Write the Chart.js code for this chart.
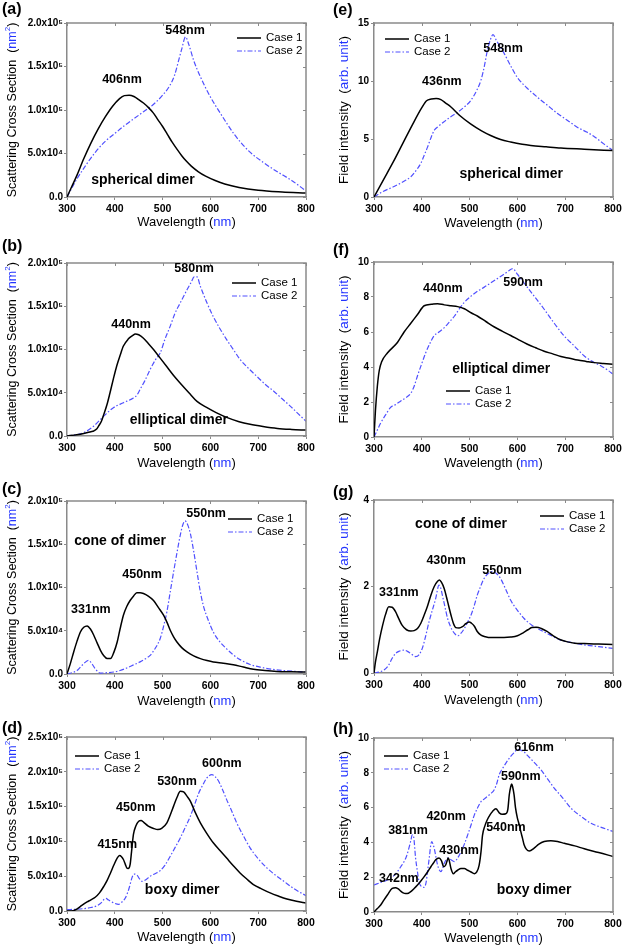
<!DOCTYPE html>
<html><head><meta charset="utf-8">
<script src="https://cdn.jsdelivr.net/npm/chart.js@4.4.1/dist/chart.umd.min.js"></script>
<style>
html,body{margin:0;padding:0;background:#fff;width:622px;height:946px;overflow:hidden;position:relative}
canvas{position:absolute}
</style></head><body>
<script>
// ---------- tick labels ----------
const wavelengthTicks = [300, 400, 500, 600, 700, 800];
const scatTickValues = [0, 50000, 100000, 150000, 200000, 250000];
const scatTickLabels = ['0.0', '5.0x10⁴', '1.0x10⁵', '1.5x10⁵', '2.0x10⁵', '2.5x10⁵'];
const seriesNames = ['Case 1', 'Case 2'];

// ---------- (a) spherical dimer, scattering ----------
const a1_wl = [300,310,320,335,350,365,380,395,410,420,430,440,450,460,470,480,490,500,510,520,530,540,550,560,575,590,610,630,660,700,750,800];
const a1_val = [0,12e3,24e3,44e3,62e3,78e3,92e3,104e3,113e3,116.5e3,117e3,115.5e3,112e3,108e3,103e3,97e3,89e3,81e3,72e3,63e3,55e3,47.5e3,41e3,35.5e3,29e3,24e3,19e3,15e3,11e3,7.8e3,5.8e3,4.5e3];
const a2_wl = [300,320,340,360,380,400,420,440,460,480,500,515,525,535,540,548,555,565,580,600,620,650,680,710,740,770,800];
const a2_val = [0,20e3,37e3,52e3,64e3,73e3,82e3,90e3,98e3,106e3,117e3,128e3,140e3,160e3,170e3,184e3,175e3,157e3,137e3,115e3,97e3,72e3,53e3,40e3,29e3,19e3,7e3];

// ---------- (e) spherical dimer, field ----------
const e1_wl = [300,320,340,360,380,400,410,420,430,440,450,461,480,502,525,544,565,586,610,628,660,691,740,800];
const e1_val = [0,1.5,3.0,4.6,6.2,7.7,8.3,8.45,8.5,8.4,8.1,7.76,7.0,6.3,5.7,5.3,4.95,4.74,4.55,4.45,4.33,4.22,4.12,4.0];
const e2_wl = [300,320,342,360,377,390,398,405,412,420,426,435,447,460,475,490,502,515,524,531,537,543,549,556,572,586,600,620,642,663,684,705,726,745,761,780,800];
const e2_val = [0,0.5,0.9,1.3,1.75,2.4,2.9,3.6,4.3,5.2,5.75,6.1,6.5,6.9,7.3,7.8,8.3,9.2,10.1,11.3,12.6,13.5,14.0,13.5,12.4,11.3,10.3,9.4,8.6,7.9,7.2,6.6,6.0,5.6,5.2,4.6,4.0];

// ---------- (b) elliptical dimer, scattering ----------
const b1_wl = [300,320,335,350,356,362,366,372,377,384,390,397,404,411,418,428,437,443,450,460,470,481,495,509,523,537,555,572,592,612,634,660,683,710,740,770,800];
const b1_val = [0,1.5e3,3e3,5e3,5.8e3,8e3,11.5e3,17e3,25e3,37e3,50e3,66e3,81e3,93e3,104e3,112e3,116e3,118e3,117e3,113e3,107e3,100e3,90e3,80e3,70e3,61e3,50e3,40e3,33e3,27e3,21.5e3,16.5e3,13.5e3,11e3,8.8e3,7.6e3,6.8e3];
const b2_wl = [300,320,335,356,377,397,418,439,446,453,463,474,485,495,505,516,526,537,551,560,566,572,579,592,606,620,634,648,662,680,697,714,732,750,767,785,800];
const b2_val = [0,1.5e3,3.8e3,11.5e3,23e3,32.7e3,38.5e3,44e3,47e3,54e3,64e3,77e3,88e3,96e3,112e3,127e3,142e3,154e3,169e3,178e3,184e3,184e3,173e3,155e3,138e3,124e3,111.5e3,100e3,88.5e3,78e3,69e3,60e3,52e3,43e3,34.6e3,25e3,17e3];

// ---------- (f) elliptical dimer, field ----------
const f1_wl = [300,303,307,311,316,328,349,363,377,391,405,420,433,447,461,475,489,503,517,534,551,568,586,603,621,638,656,674,691,709,726,744,761,780,800];
const f1_val = [0,1.5,2.9,3.8,4.3,4.8,5.4,6.0,6.5,7.0,7.5,7.58,7.62,7.55,7.5,7.45,7.33,7.1,6.9,6.6,6.3,6.05,5.8,5.55,5.3,5.1,4.9,4.75,4.6,4.5,4.4,4.32,4.25,4.2,4.15];
const f2_wl = [300,307,314,325,335,345,356,367,377,384,391,400,408,417,426,436,447,457,468,478,489,503,517,530,544,558,572,582,590,600,614,635,656,677,698,719,740,758,775,790,800];
const f2_val = [0,0.4,0.8,1.3,1.7,1.85,2.06,2.25,2.5,2.9,3.5,4.2,4.8,5.35,5.8,6.0,6.25,6.55,6.9,7.3,7.7,8.05,8.34,8.55,8.8,9.05,9.3,9.5,9.62,9.3,8.8,8.05,7.3,6.5,5.77,5.2,4.63,4.3,4.06,3.8,3.58];

// ---------- (c) cone of dimer, scattering ----------
const c1_wl = [300,307,314,321,328,335,342,349,356,363,370,377,384,391,398,405,411,418,425,432,439,446,453,460,470,481,491,502,509,516,523,530,540,551,565,579,593,606,627,648,669,690,714,739,770,800];
const c1_val = [0,12e3,25.5e3,38e3,48.6e3,54e3,55.6e3,52e3,44.8e3,36e3,27.4e3,21e3,17.8e3,17.8e3,25e3,37e3,52e3,68e3,78e3,85e3,90e3,94e3,94e3,93e3,90e3,85e3,77e3,68e3,60e3,50.6e3,43e3,37e3,30.5e3,25.5e3,21e3,17.8e3,15.5e3,13.9e3,12.5e3,10.8e3,8e3,5.4e3,4e3,3e3,2.6e3,2.3e3];
const c2_wl = [300,310,321,328,335,345,352,359,365,370,384,398,411,425,439,453,464,474,485,495,502,509,516,523,530,537,542,547,552,558,565,572,578,585,595,606,620,634,648,662,683,704,728,753,800];
const c2_val = [0,1.5e3,4e3,8e3,12e3,15.8e3,12e3,6e3,2.5e3,1e3,1.5e3,2.3e3,4e3,7e3,10.5e3,14e3,17.5e3,21.6e3,30e3,41e3,55e3,72e3,95e3,118e3,140e3,160.6e3,172e3,177e3,173e3,162.5e3,142e3,118e3,98e3,79.5e3,63e3,48.6e3,37e3,29e3,22e3,16.6e3,11e3,8e3,5.5e3,4e3,2.3e3];

// ---------- (g) cone of dimer, field ----------
const g1_wl = [300,303,307,312,318,324,331,338,345,352,359,368,377,384,391,398,405,412,419,426,433,437,441,447,454,461,466,471,478,485,492,499,504,510,516,523,533,544,558,572,586,600,612,622,630,640,650,662,675,690,705,720,740,770,800];
const g1_val = [0,0.25,0.49,0.8,1.1,1.35,1.53,1.52,1.42,1.25,1.1,1.0,0.97,0.98,1.03,1.15,1.34,1.55,1.8,2.0,2.12,2.15,2.1,1.95,1.65,1.34,1.15,1.05,1.04,1.07,1.14,1.18,1.15,1.08,0.96,0.88,0.84,0.82,0.82,0.82,0.83,0.86,0.93,1.0,1.05,1.06,1.03,0.96,0.86,0.77,0.72,0.69,0.68,0.67,0.66];
const g2_wl = [300,310,321,330,338,345,352,363,370,377,387,394,401,408,415,422,429,436,440,443,448,454,461,468,475,482,489,496,503,510,516,523,530,539,548,556,565,575,586,600,614,631,649,670,691,715,740,770,800];
const g2_val = [0,0.02,0.07,0.17,0.34,0.45,0.5,0.53,0.5,0.45,0.38,0.42,0.57,0.85,1.18,1.45,1.72,2.03,1.95,1.8,1.55,1.26,1.05,0.92,0.86,0.92,1.03,1.18,1.34,1.57,1.8,2.0,2.18,2.3,2.35,2.3,2.18,1.95,1.68,1.45,1.26,1.1,0.99,0.87,0.76,0.7,0.65,0.61,0.57];

// ---------- (d) boxy dimer, scattering ----------
const d1_wl = [300,310,321,331,342,350,359,368,377,384,391,398,405,410,414,418,422,425,428,432,435,439,444,450,455,460,470,481,490,498,509,516,523,530,537,544,551,558,568,579,592,606,620,634,648,662,676,690,708,725,742,760,780,800];
const d1_val = [0,0,2.9e3,8e3,13e3,16e3,19.7e3,26e3,35.5e3,44e3,54.7e3,66e3,76e3,79.7e3,78e3,74e3,67e3,62e3,61e3,66.7e3,85e3,110e3,122e3,129e3,130e3,127.7e3,122e3,118.6e3,117e3,118.6e3,126.7e3,138e3,150.7e3,163e3,172e3,171e3,165e3,158e3,142e3,126.7e3,112e3,98e3,87e3,76e3,65e3,54.7e3,46e3,38e3,31.5e3,26e3,21.5e3,17.3e3,14e3,11.5e3];
const d2_wl = [300,320,335,350,363,372,378,382,386,391,400,408,415,422,430,436,440,446,451,457,465,474,485,495,505,516,526,537,548,558,567,575,584,592,603,610,617,625,634,645,655,669,683,700,718,735,753,775,800];
const d2_val = [2e3,2.5e3,3.4e3,5e3,7.7e3,12e3,17e3,18e3,16e3,14e3,11e3,9.6e3,13e3,18.7e3,33e3,48e3,53e3,52e3,47e3,42.7e3,45e3,50e3,54e3,58e3,66e3,78.7e3,91e3,105e3,121e3,136e3,153e3,168.5e3,181e3,190.6e3,196e3,193e3,186.7e3,175e3,160e3,143e3,126.7e3,108e3,90.7e3,75e3,62e3,52e3,43e3,32e3,22e3];

// ---------- (h) boxy dimer, field ----------
const h1_wl = [300,307,314,321,328,338,345,350,356,361,366,372,377,384,391,398,405,412,419,424,429,436,441,446,450,453,455,457,461,466,470,475,482,489,496,503,510,515,520,524,527,532,537,543,548,555,562,568,576,580,583,586,588,590,593,596,600,604,607,611,614,619,625,635,645,656,670,684,698,720,740,770,800];
const h1_val = [0,0.2,0.4,0.7,0.98,1.36,1.4,1.35,1.2,1.1,1.06,1.08,1.17,1.35,1.55,1.78,2.03,2.3,2.6,2.8,3.0,3.1,2.95,2.6,2.7,2.95,3.1,3.0,2.5,2.2,2.3,2.4,2.5,2.5,2.4,2.3,2.2,2.3,2.7,3.5,4.4,4.95,5.3,5.6,5.78,5.93,5.7,5.62,5.65,5.9,6.74,7.2,7.35,7.2,6.74,6.0,5.4,5.0,4.63,4.2,3.86,3.6,3.5,3.67,3.9,4.05,4.1,4.05,3.95,3.8,3.63,3.42,3.19];
const h2_wl = [300,314,328,340,349,356,363,368,373,377,380,383,387,391,394,398,405,409,412,416,419,421,424,426,430,433,437,440,447,454,461,468,475,482,489,496,503,510,517,524,531,537,544,551,557,562,569,576,586,593,600,607,614,621,635,649,663,677,695,712,733,754,777,800];
const h2_val = [1.55,1.7,1.84,2.05,2.32,2.6,2.9,3.2,3.67,4.1,4.43,4.3,3.1,2.3,1.75,1.5,1.42,1.7,2.32,3.2,3.9,4.05,3.85,3.67,3.1,2.7,2.4,2.32,2.8,3.1,3.0,2.9,3.1,3.47,3.9,4.43,5.0,5.58,6.0,6.35,6.5,6.64,6.8,7.0,7.4,7.9,8.25,8.56,8.94,9.15,9.35,9.3,9.2,9.0,8.6,8.18,7.65,7.12,6.55,5.97,5.5,5.1,4.85,4.63];

// ---------- styling ----------
const FONT = '"Liberation Sans", Arial, Helvetica, sans-serif';
const BLUE_TEXT = '#2233ff';
const BLUE_LINE = '#5050ff';
const GRAY = '#8a8a8a';
const DASH = [5, 2, 1.5, 2];

const panels = [
  {tag:'(a)', col:0, row:0, top:23, bottom:197, ymax:2e5, ystep:5e4, kind:'scat', s1:[a1_wl,a1_val], s2:[a2_wl,a2_val],
   label:{y:10}, xt:25, legend:{x:170,y:15},
   notes:[{t:'548nm',x:547,y:190.8e3},{t:'406nm',x:415,y:134.5e3},{t:'spherical dimer',x:459,y:19.5e3,big:true}]},
  {tag:'(b)', col:0, row:1, top:27, bottom:200, ymax:2e5, ystep:5e4, kind:'scat', s1:[b1_wl,b1_val], s2:[b2_wl,b2_val],
   label:{y:11}, xt:27, legend:{x:165,y:20},
   notes:[{t:'580nm',x:566,y:194e3},{t:'440nm',x:434,y:128.3e3},{t:'elliptical dimer',x:534,y:18.5e3,big:true}]},
  {tag:'(c)', col:0, row:2, top:29, bottom:202, ymax:2e5, ystep:5e4, kind:'scat', s1:[c1_wl,c1_val], s2:[c2_wl,c2_val],
   label:{y:18}, xt:27, legend:{x:161,y:18},
   notes:[{t:'cone of dimer',x:411,y:153.7e3,big:true},{t:'331nm',x:350,y:74e3},{t:'450nm',x:457,y:114.4e3},{t:'550nm',x:591,y:185e3}]},
  {tag:'(d)', col:0, row:3, top:29, bottom:203, ymax:2.5e5, ystep:5e4, kind:'scat', s1:[d1_wl,d1_val], s2:[d2_wl,d2_val],
   label:{y:21}, xt:26, legend:{x:8,y:19},
   notes:[{t:'boxy dimer',x:541,y:30.2e3,big:true},{t:'415nm',x:405,y:94.8e3},{t:'450nm',x:444,y:148e3},{t:'530nm',x:530,y:185.3e3},{t:'600nm',x:624,y:211.2e3}]},
  {tag:'(e)', col:1, row:0, top:23, bottom:197, ymax:15, ystep:5, kind:'field', s1:[e1_wl,e1_val], s2:[e2_wl,e2_val],
   label:{y:11}, xt:26, legend:{x:11,y:16},
   notes:[{t:'548nm',x:570,y:12.84},{t:'436nm',x:442,y:9.91},{t:'spherical dimer',x:587,y:1.98,big:true}]},
  {tag:'(f)', col:1, row:1, top:26, bottom:201, ymax:10, ystep:2, kind:'field', s1:[f1_wl,f1_val], s2:[f2_wl,f2_val],
   label:{y:15}, xt:26, legend:{x:72,y:129},
   notes:[{t:'440nm',x:444,y:8.51},{t:'590nm',x:612,y:8.8},{t:'elliptical dimer',x:566,y:3.89,big:true}]},
  {tag:'(g)', col:1, row:2, top:28, bottom:201, ymax:4, ystep:2, kind:'field', s1:[g1_wl,g1_val], s2:[g2_wl,g2_val],
   label:{y:21}, xt:27, legend:{x:166,y:16},
   notes:[{t:'cone of dimer',x:482,y:3.44,big:true},{t:'331nm',x:352,y:1.87},{t:'430nm',x:451,y:2.59},{t:'550nm',x:568,y:2.36}]},
  {tag:'(h)', col:1, row:3, top:30, bottom:204, ymax:10, ystep:2, kind:'field', s1:[h1_wl,h1_val], s2:[h2_wl,h2_val],
   label:{y:22}, xt:26, legend:{x:10,y:18},
   notes:[{t:'boxy dimer',x:635,y:1.26,big:true},{t:'342nm',x:352,y:1.95},{t:'381nm',x:371,y:4.66},{t:'420nm',x:451,y:5.46},{t:'430nm',x:478,y:3.51},{t:'540nm',x:576,y:4.83},{t:'590nm',x:607,y:7.76},{t:'616nm',x:635,y:9.48}]}
];

function drawRuns(ctx, parts, cx, cy, rotate) {
  ctx.save();
  ctx.translate(cx, cy);
  if (rotate) ctx.rotate(-Math.PI / 2);
  ctx.textBaseline = 'middle';
  ctx.textAlign = 'left';
  let total = 0;
  parts.forEach(p => { ctx.font = p.font; p.w = ctx.measureText(p.t).width; total += p.w; });
  let x = -total / 2;
  parts.forEach(p => {
    ctx.font = p.font; ctx.fillStyle = p.c;
    ctx.fillText(p.t, x, p.dy || 0);
    x += p.w;
  });
  ctx.restore();
}

const decor = {
  id: 'decor',
  afterDraw(chart, args, o) {
    const ctx = chart.ctx, ca = chart.chartArea, xs = chart.scales.x, ys = chart.scales.y;
    const p = o.panel;
    ctx.save();
    // top + right frame with inward ticks
    ctx.strokeStyle = GRAY; ctx.lineWidth = 1.5; ctx.setLineDash([]);
    ctx.beginPath(); ctx.moveTo(ca.left, ca.top); ctx.lineTo(ca.right, ca.top); ctx.lineTo(ca.right, ca.bottom); ctx.stroke();
    ctx.lineWidth = 1; ctx.beginPath();
    xs.ticks.forEach(t => { const px = Math.round(xs.getPixelForValue(t.value)) + 0.5; ctx.moveTo(px, ca.top); ctx.lineTo(px, ca.top + 3); });
    ys.ticks.forEach(t => { const py = Math.round(ys.getPixelForValue(t.value)) + 0.5; ctx.moveTo(ca.right, py); ctx.lineTo(ca.right - 3, py); });
    ctx.stroke();

    // panel tag
    ctx.fillStyle = '#000'; ctx.font = 'bold 16px ' + FONT; ctx.textBaseline = 'middle'; ctx.textAlign = 'left';
    ctx.fillText(p.tag, p.col === 0 ? 2 : 22, p.label.y);

    // axis titles
    const tf = '13px ' + FONT, ysup = '8px ' + FONT;
    const yf = (p.kind === 'scat' ? '12.5px ' : '13.5px ') + FONT;
    drawRuns(ctx, [{t:'Wavelength (', c:'#000', font:tf}, {t:'nm', c:BLUE_TEXT, font:tf}, {t:')', c:'#000', font:tf}],
      (ca.left + ca.right) / 2, ca.bottom + p.xt, false);
    const ytx = p.col === 0 ? ca.left - 54 : ca.left - 30;
    const yparts = p.kind === 'scat'
      ? [{t:'Scattering Cross Section  (', c:'#000', font:yf}, {t:'nm', c:BLUE_TEXT, font:yf}, {t:'2', c:BLUE_TEXT, font:ysup, dy:-5}, {t:')', c:'#000', font:yf}]
      : [{t:'Field intensity  (', c:'#000', font:yf}, {t:'arb. unit', c:BLUE_TEXT, font:yf}, {t:')', c:'#000', font:yf}];
    drawRuns(ctx, yparts, ytx, (ca.top + ca.bottom) / 2, true);

    // legend
    const lx = ca.left + p.legend.x, ly = ca.top + p.legend.y;
    ctx.font = '11.5px ' + FONT; ctx.textAlign = 'left'; ctx.textBaseline = 'middle';
    chart.data.datasets.forEach((ds, i) => {
      const yy = ly + i * 13;
      ctx.strokeStyle = ds.borderColor; ctx.lineWidth = ds.borderWidth; ctx.setLineDash(ds.borderDash || []);
      ctx.beginPath(); ctx.moveTo(lx, yy); ctx.lineTo(lx + 24, yy); ctx.stroke();
      ctx.setLineDash([]);
      ctx.fillStyle = '#000'; ctx.fillText(ds.label, lx + 29, yy);
    });

    // annotations
    ctx.textAlign = 'center'; ctx.fillStyle = '#000';
    p.notes.forEach(n => {
      ctx.font = 'bold ' + (n.big ? 14 : 12.5) + 'px ' + FONT;
      ctx.fillText(n.t, xs.getPixelForValue(n.x), ys.getPixelForValue(n.y));
    });
    ctx.restore();
  }
};

function pts(s) { return s[0].map((x, i) => ({x: x, y: s[1][i]})); }

panels.forEach(p => {
  const W = p.col === 0 ? 330 : 311;
  const H = p.row === 3 ? 238 : 236;
  const L = p.col === 0 ? 67 : 63;
  const R = p.col === 0 ? 306 : 302;
  const c = document.createElement('canvas');
  c.width = W; c.height = H;
  c.style.left = (p.col * 311) + 'px'; c.style.top = (p.row * 236) + 'px';
  c.style.width = W + 'px'; c.style.height = H + 'px';
  document.body.appendChild(c);
  new Chart(c, {
    type: 'line',
    data: {datasets: [
      {label: seriesNames[0], data: pts(p.s1), borderColor: '#000', borderWidth: 1.5, pointRadius: 0, cubicInterpolationMode: 'monotone', fill: false},
      {label: seriesNames[1], data: pts(p.s2), borderColor: BLUE_LINE, borderWidth: 1.2, borderDash: DASH, pointRadius: 0, cubicInterpolationMode: 'monotone', fill: false}
    ]},
    options: {
      responsive: false, animation: false, devicePixelRatio: 1,
      events: [],
      layout: {padding: {top: p.top, right: W - R, left: 0, bottom: 0}},
      plugins: {legend: {display: false}, tooltip: {enabled: false}, decor: {panel: p}},
      scales: {
        x: {type: 'linear', min: 300, max: 800,
            afterBuildTicks(s) { s.ticks = wavelengthTicks.map(v => ({value: v})); },
            ticks: {font: {family: FONT, size: 10.5, weight: 'bold'}, color: '#000', padding: 3, maxRotation: 0, autoSkip: false},
            grid: {drawOnChartArea: false, drawTicks: true, tickLength: 3, color: GRAY},
            border: {color: GRAY, width: 1.5},
            afterFit(s) { s.height = H - p.bottom; s.paddingLeft = 0; s.paddingRight = 0; }},
        y: {type: 'linear', min: 0, max: p.ymax,
            ticks: {stepSize: p.ystep, font: {family: FONT, size: 10, weight: 'bold'}, color: '#000', padding: p.col === 0 ? 1 : 2,
                    callback: p.kind === 'scat' ? (v => { const i = scatTickValues.indexOf(v); return i >= 0 ? scatTickLabels[i] : ''; }) : (v => String(v))},
            grid: {drawOnChartArea: false, drawTicks: true, tickLength: 3, color: GRAY},
            border: {color: GRAY, width: 1.5},
            afterFit(s) { s.width = L; s.paddingTop = 0; s.paddingBottom = 0; }}
      }
    },
    plugins: [decor]
  });
});
</script></body></html>
